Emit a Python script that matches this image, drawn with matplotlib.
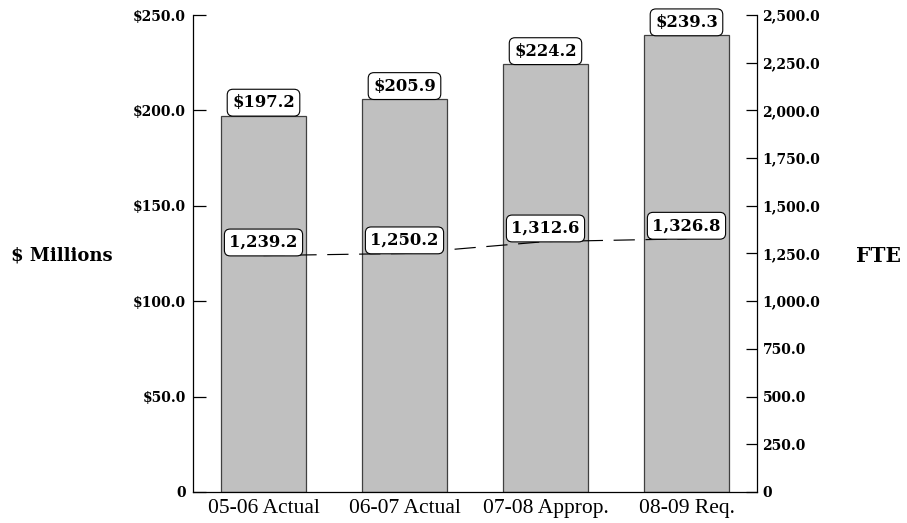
import matplotlib
matplotlib.use("Agg")
import matplotlib.pyplot as plt

categories = ["05-06 Actual", "06-07 Actual", "07-08 Approp.", "08-09 Req."]
dollars = [197.2, 205.9, 224.2, 239.3]
fte = [1239.2, 1250.2, 1312.6, 1326.8]
left_ticks = [0, 50, 100, 150, 200, 250]
left_labels = ["0", "$50.0", "$100.0", "$150.0", "$200.0", "$250.0"]
right_ticks = [0, 250, 500, 750, 1000, 1250, 1500, 1750, 2000, 2250, 2500]
right_labels = ["0"] + [f"{v:,.1f}" for v in right_ticks[1:]]

wide = ["DejaVu Serif"]
times = ["Liberation Serif", "DejaVu Serif"]
plt.rcParams["font.family"] = wide

fig = plt.figure(figsize=(9.07, 5.23), dpi=100)
ax = fig.add_axes([0.2128, 0.0593, 0.8346 - 0.2128, 0.9713 - 0.0593])
x = list(range(len(categories)))
ax.bar(x, dollars, width=0.6, color="#C0C0C0", edgecolor="#404040", linewidth=0.9, zorder=2)
ax.set_xlim(-0.5, 3.5)
ax.set_ylim(0, 250)
ax.set_yticks(left_ticks)
ax.set_yticklabels(left_labels, fontweight="bold", fontsize=10)
ax.set_xticks(x)
ax.set_xticklabels(categories, fontsize=15.5, family=times)
ax.tick_params(axis="x", length=0, pad=5)
ax.tick_params(axis="y", direction="in", length=9.5, width=0.9, pad=5)
for s in ["top", "right"]:
    ax.spines[s].set_visible(False)
ax.spines["left"].set_linewidth(0.9)
ax.spines["bottom"].set_linewidth(0.9)

box = dict(boxstyle="round,pad=0.3,rounding_size=0.35", fc="white", ec="black", lw=0.8)
for xi, v in zip(x, dollars):
    ax.text(xi, v + 2.4, f"${v:.1f}", ha="center", va="bottom", fontsize=11.8,
            fontweight="bold", bbox=box, zorder=5)

ax2 = ax.twinx()
ax2.set_ylim(0, 2500)
ax2.set_xlim(-0.5, 3.5)
ax2.plot(x, fte, color="black", lw=0.85, dashes=(18, 9), zorder=3)
ax2.set_yticks(right_ticks)
ax2.set_yticklabels(right_labels, fontweight="bold", fontsize=10)
ax2.tick_params(axis="y", direction="in", length=8, width=0.9, pad=4)
for s in ["top", "left", "bottom"]:
    ax2.spines[s].set_visible(False)
ax2.spines["right"].set_linewidth(0.9)
for xi, v in zip(x, fte):
    ax2.text(xi, v + 24, f"{v:,.1f}", ha="center", va="bottom", fontsize=11.8,
             fontweight="bold", bbox=box, zorder=5)

fig.text(0.068, 0.511, "$ Millions", ha="center", va="center", fontsize=13, fontweight="bold")
fig.text(0.969, 0.511, "FTE", ha="center", va="center", fontsize=14.5, fontweight="bold")

fig.savefig("out.png", dpi=100)
